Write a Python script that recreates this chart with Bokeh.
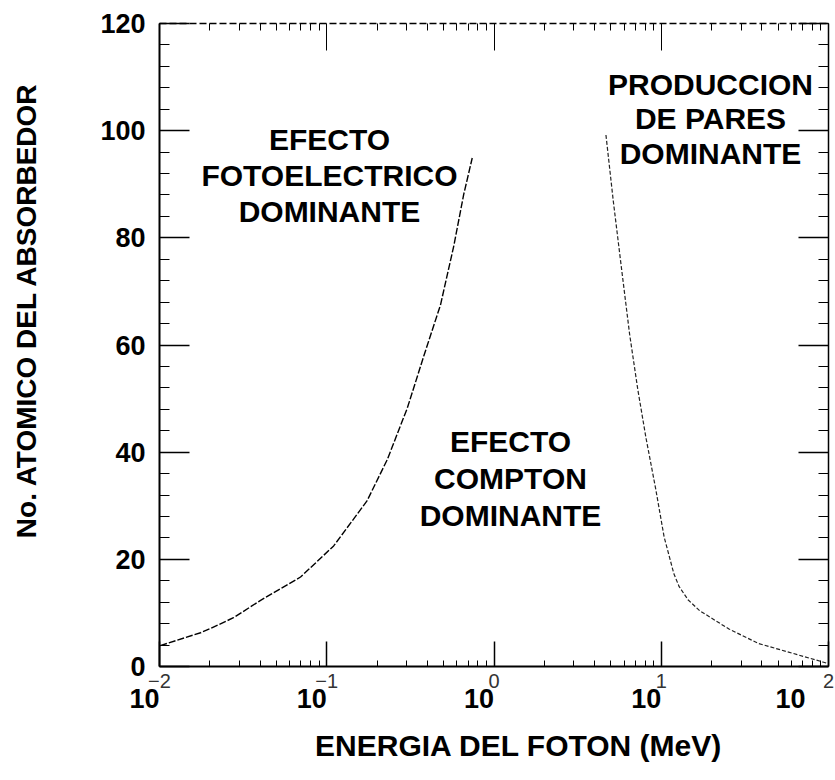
import math
from bokeh.plotting import figure
from bokeh.models import Range1d, FixedTicker, LinearAxis, LogAxis, Label
from bokeh.embed import file_html
from bokeh.resources import INLINE

# ---- data ----
# photoelectric / Compton boundary
pe_energy = [0.0101, 0.0176, 0.0202, 0.0277, 0.040, 0.0697, 0.110, 0.174, 0.230, 0.303, 0.380, 0.479, 0.575, 0.659, 0.741]
pe_z = [3.9, 6.3, 7.1, 9.1, 12.3, 16.7, 22.5, 30.9, 38.6, 48.2, 57.9, 67.5, 78.5, 88.1, 94.9]
# Compton / pair-production boundary
pp_energy = [4.67, 5.17, 5.78, 6.47, 7.24, 8.10, 9.27, 10.4, 11.9, 12.8, 14.5, 17.0, 25.4, 38.1, 65.3, 93.5, 100.0]
pp_z = [99.2, 86.8, 74.4, 62.0, 51.7, 42.7, 33.1, 24.2, 17.3, 14.9, 12.4, 10.4, 7.0, 4.3, 2.2, 0.8, 0.5]

x_decades = [0.01, 0.1, 1, 10, 100]
x_exponents = ["\u22122", "\u22121", "0", "1", "2"]
y_major = [0, 20, 40, 60, 80, 100, 120]
y_minor = list(range(0, 121, 4))
x_minor = [m * d for d in [0.01, 0.1, 1, 10] for m in range(2, 10)]

x_title = "ENERGIA DEL FOTON (MeV)"
y_title = "No. ATOMICO DEL ABSORBEDOR"

region_labels = [
    (0.1038, [98.4, 91.6, 84.9], ["EFECTO", "FOTOELECTRICO", "DOMINANTE"]),
    (1.255, [42.0, 35.1, 28.2], ["EFECTO", "COMPTON", "DOMINANTE"]),
    (19.7, [108.6, 102.3, 95.7], ["PRODUCCION", "DE PARES", "DOMINANTE"]),
]

FONT = "Liberation Sans"
NBSP = "\u00a0"

p = figure(width=835, height=780, x_axis_type="log",
           x_range=Range1d(0.01, 100), y_range=Range1d(0, 120),
           output_backend="svg", toolbar_location=None,
           min_border_left=159, min_border_right=7,
           min_border_top=23, min_border_bottom=114)
p.grid.visible = False
p.outline_line_color = None
p.background_fill_color = "white"
p.border_fill_color = "white"

# bottom axis (frame line, ticks, exponent labels)
xb = p.xaxis[0]
xb.ticker = FixedTicker(ticks=x_decades, minor_ticks=x_minor)
xb.major_tick_in = 25
xb.major_tick_out = 0
xb.minor_tick_in = 6
xb.minor_tick_out = 0
xb.axis_line_width = 2
xb.major_tick_line_width = 1.5
xb.major_label_overrides = {d: e for d, e in zip(x_decades, x_exponents)}
xb.major_label_text_font = FONT
xb.major_label_text_font_style = "normal"
xb.major_label_text_font_size = "20px"
xb.major_label_text_color = "#333333"
xb.major_label_standoff = 7

# second bottom axis carrying the "10" mantissas and the title
xb2 = LogAxis(ticker=FixedTicker(ticks=x_decades, minor_ticks=[]),
              major_label_overrides={d: "10" + NBSP * 4 for d in x_decades},
              axis_line_color=None, major_tick_line_color=None, minor_tick_line_color=None,
              major_tick_in=0, major_tick_out=0, minor_tick_in=0, minor_tick_out=0,
              major_label_text_font=FONT, major_label_text_font_style="bold",
              major_label_text_font_size="27px", major_label_text_color="black",
              major_label_standoff=-7,
              axis_label=NBSP * 6 + x_title, axis_label_standoff=12,
              axis_label_text_font=FONT, axis_label_text_font_style="bold",
              axis_label_text_font_size="30px", axis_label_text_color="black")
p.add_layout(xb2, "below")

# left axis
yl = p.yaxis[0]
yl.ticker = FixedTicker(ticks=y_major, minor_ticks=y_minor)
yl.major_tick_in = 30
yl.major_tick_out = 0
yl.minor_tick_in = 10
yl.minor_tick_out = 0
yl.axis_line_width = 2
yl.major_tick_line_width = 1.5
yl.minor_tick_line_width = 1.2
yl.major_label_text_font = FONT
yl.major_label_text_font_style = "bold"
yl.major_label_text_font_size = "27px"
yl.major_label_text_color = "black"
yl.major_label_standoff = 14
yl.axis_label = NBSP * 9 + y_title
yl.axis_label_standoff = 55
yl.axis_label_text_font = FONT
yl.axis_label_text_font_style = "bold"
yl.axis_label_text_font_size = "28px"
yl.axis_label_text_color = "black"

# top axis
xt = LogAxis(ticker=FixedTicker(ticks=x_decades, minor_ticks=x_minor),
             major_tick_in=27, major_tick_out=0, minor_tick_in=7, minor_tick_out=0,
             axis_line_width=1.5, axis_line_dash="7 3",
             major_label_text_font_size="1px", major_label_text_color=None,
             major_label_standoff=0)
p.add_layout(xt, "above")

# right axis
yr = LinearAxis(ticker=FixedTicker(ticks=y_major, minor_ticks=y_minor),
                major_tick_in=30, major_tick_out=0, minor_tick_in=10, minor_tick_out=0,
                axis_line_width=1.5, major_tick_line_width=1.5, minor_tick_line_width=1.2,
                major_label_text_font_size="1px", major_label_text_color=None,
                major_label_standoff=0)
p.add_layout(yr, "right")

# boundary curves
p.line(pe_energy, pe_z, line_color="black", line_width=1.4, line_dash="7 2")
p.line(pp_energy, pp_z, line_color="#222222", line_width=1.2, line_dash="4 2")

# region labels
for ex, ys, lines in region_labels:
    for yy, t in zip(ys, lines):
        p.add_layout(Label(x=ex, y=yy, text=t, text_font=FONT, text_font_style="bold",
                           text_font_size="30px", text_color="black",
                           text_align="center", text_baseline="alphabetic"))

open("out.html", "w").write(file_html(p, INLINE))
